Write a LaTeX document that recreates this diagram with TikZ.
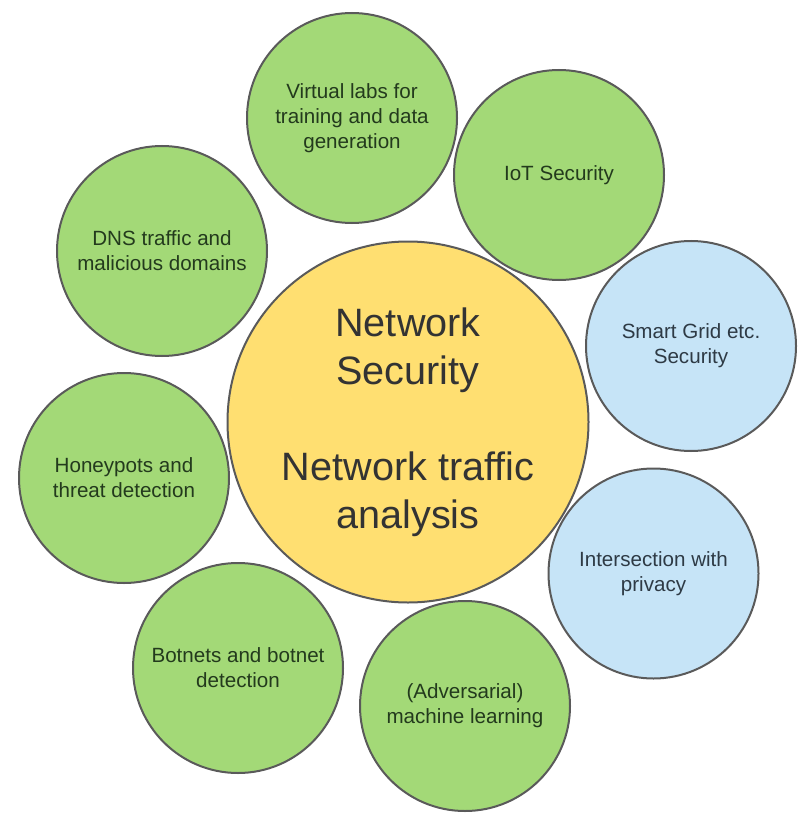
\documentclass[tikz,border=0pt]{standalone}
\usepackage{fontspec}
\setmainfont{Liberation Sans}
\usetikzlibrary{positioning,backgrounds}
\definecolor{leaf}{HTML}{A3D977}
\definecolor{leaftext}{HTML}{233A1D}
\definecolor{sky}{HTML}{C6E4F7}
\definecolor{skytext}{HTML}{2E3A45}
\definecolor{sun}{HTML}{FFDF71}
\definecolor{rim}{HTML}{5A5A5A}
\newcommand{\topic}[4][leaf]{\node[circle,draw=rim,line width=2pt,fill=#1,text=#1text,minimum size=210pt,inner sep=0pt,align=center,font=\fontsize{20.6}{25}\selectfont](#2) at (#3){#4};}

\begin{document}
\begin{tikzpicture}[x=1pt,y=-1pt]
\useasboundingbox (0,0) rectangle (798,818);

% centre topic
\node[circle,draw=rim,line width=2pt,fill=sun,text=black!80,minimum size=361pt,inner sep=0pt,align=center,font=\fontsize{39.6}{48}\selectfont](core) at (408,422){Network\\Security\\[48pt]Network traffic\\analysis};

% satellites, clockwise from the top
\topic{labs}{352,118}{Virtual labs for\\training and data\\generation}
\topic{iot}{559,175}{IoT Security}
\topic[sky]{grid}{691,346}{Smart Grid etc.\\Security}
\topic[sky]{privacy}{653.5,573.5}{Intersection with\\privacy}
\topic{ml}{465,706}{(Adversarial)\\machine learning}
\topic{botnet}{238,668}{Botnets and botnet\\detection}
\topic{honey}{124,478}{Honeypots and\\threat detection}
\topic{dns}{162,251}{DNS traffic and\\malicious domains}

\end{tikzpicture}
\end{document}
